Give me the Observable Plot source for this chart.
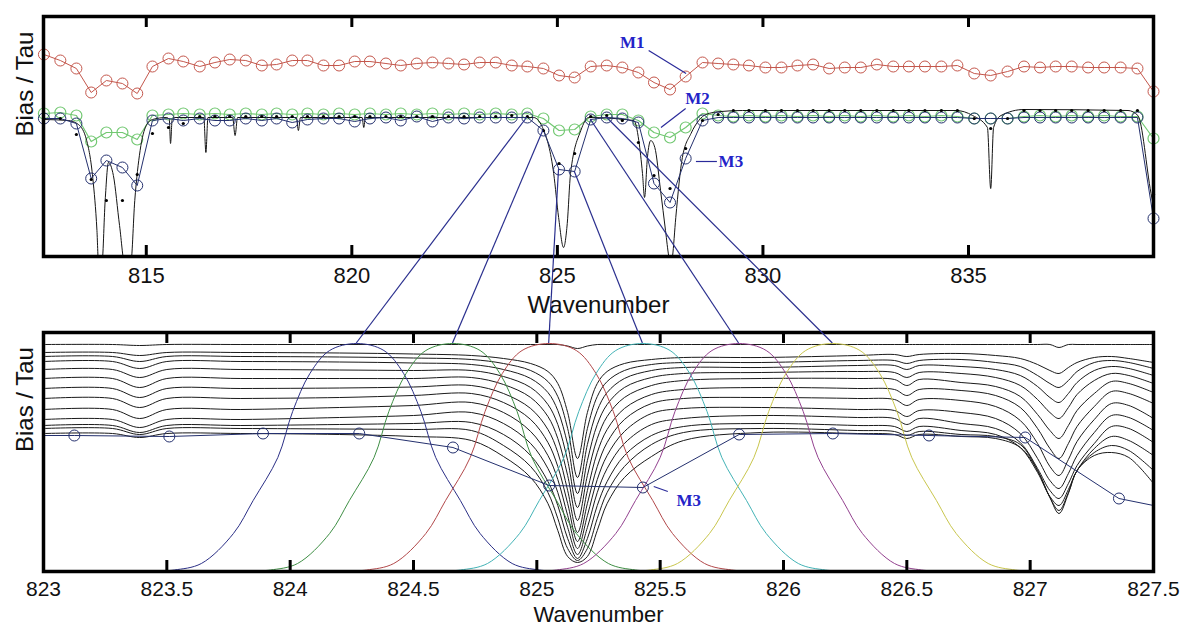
<!DOCTYPE html>
<html><head><meta charset="utf-8">
<script src="https://cdn.jsdelivr.net/npm/d3@7"></script>
<script src="https://cdn.jsdelivr.net/npm/@observablehq/plot@0.6"></script>
<style>
html,body{margin:0;padding:0;background:#fff;}
#wrap{position:relative;width:1183px;height:627px;overflow:hidden;background:#fff;}
#wrap svg{position:absolute;left:0;}
</style></head><body><div id="wrap"></div>
<script>
// ---------------- TOP PANEL DATA (wavenumber, arbitrary Bias/Tau units) ----------------
const topTicks = [815, 820, 825, 830, 835];
const channels = [812.51,812.91,813.30,813.66,814.03,814.42,814.78,815.15,815.54,815.90,816.30,816.67,817.03,817.42,817.81,818.17,818.55,818.92,819.31,819.69,820.07,820.44,820.83,821.19,821.58,821.96,822.35,822.73,823.11,823.50,823.89,824.27,824.66,825.04,825.42,825.81,826.20,826.58,826.97,827.35,827.74,828.12,828.53,828.91,829.28,829.66,830.06,830.45,830.84,831.22,831.61,831.99,832.38,832.77,833.17,833.55,833.94,834.34,834.73,835.14,835.54,835.95,836.35,836.74,837.12,837.51,837.91,838.30,838.70,839.11,839.50];
const redM1 = [202,196,188,164,176,173,163,190,198,195,190,194,197,196,191,192,196,196,191,191,195,195,193,191,193,194,193,192,194,194,191,190,188,181,179,190,191,189,184,174,167,180,194,193,192,191,189,189,191,192,188,189,189,192,190,190,190,190,191,183,181,185,190,189,190,190,189,189,189,188,165];
const greenM2 = [143,144,141,115,124,124,117,141,142,143,142,143,142,143,142,143,142,143,142,143,142,143,142,143,142,143,142,143,142,143,142,143,138,126,127,140,142,142,136,124,119,129,143,141,140,141,140,141,140,141,140,141,140,141,140,141,140,141,140,138,138,138,140,141,140,141,140,141,140,140,118];
const blueM3 = [138,138,133,78,96,89,71,136,138,136,138,136,136,138,136,138,134,137,138,138,135,138,139,136,140,135,139,138,139,139,139,139,126,87,85,137,139,138,134,73,54,98,136,139,139,139,139,139,139,139,139,139,139,139,139,139,139,139,139,138,138,138,139,139,139,139,139,139,139,139,38];
const truthDots = [138,138,122,77,56,56,82,123,129,133,140,140,140,140,140,140,140,140,140,140,140,140,140,140,140,140,140,140,140,140,141,140,126,93,103,140,141,136,114,81,68,108,136,142,146,146,146,146,146,146,146,146,146,146,146,146,146,146,146,138,128,138,146,146,146,146,146,146,146,146,62];
const hiresWn = [812.50,813.10,813.35,813.55,813.70,813.80,813.84,813.92,814.00,814.08,814.20,814.35,814.48,814.62,814.72,814.85,815.00,815.15,815.50,815.56,815.59,815.63,815.70,816.40,816.45,816.50,817.10,817.16,817.22,818.65,818.70,818.75,820.25,820.29,820.33,824.42,824.67,824.91,825.03,825.15,825.24,825.32,825.57,825.76,826.86,826.98,827.07,827.12,827.19,827.27,827.37,827.51,827.63,827.71,827.76,827.80,827.88,828.04,828.25,828.44,828.61,828.98,829.50,834.70,835.10,835.46,835.54,835.61,835.79,836.35,838.88,839.12,839.44,839.50];
const hiresVal = [137,136,132,116,78,26,-8,-8,56,94,81,31,-8,-8,56,106,131,137,139,137,113,137,139,139,104,139,139,121,139,139,126,139,139,129,139,139,126,83,39,9,33,83,126,139,136,116,83,59,99,116,109,66,26,0,-9,0,39,99,123,136,142,145,146,146,141,129,68,129,141,147,146,141,63,50];
const topLabels = ["M1", "M2", "M3"];
const topLabelWn = [826.82, 828.41, 829.22];
const topLabelVal = [214, 158, 95];
const topLeaderWn1 = [827.22, 828.12, 828.37];
const topLeaderV1 = [206, 148, 95];
const topLeaderWn2 = [828.13, 827.52, 828.88];
const topLeaderV2 = [183, 129, 95];

// ---------------- BOTTOM PANEL DATA ----------------
const botTicks = [823, 823.5, 824, 824.5, 825, 825.5, 826, 826.5, 827, 827.5];
const grid = [823.00,823.28,823.39,823.50,823.80,824.20,824.50,824.735,824.865,824.975,825.045,825.085,825.125,825.165,825.205,825.245,825.285,825.355,825.465,825.595,825.91,826.30,826.45,826.50,826.55,826.72,826.86,826.96,827.03,827.08,827.117,827.155,827.19,827.26,827.33,827.40,827.50];
const tau0  = [227,227,226,227,227,227,227,227,227,227,227,227,225.5,223,225.5,227,227,227,227,227,227,227,227,227,227,227,227,227,227,227,224,227,227,227,227,227,227];
const tau1  = [219,219,216,219,219,218.5,217.5,216,213,208,200,188,159,113,159,188,200,208,212,214,214,216,217,215,217,218,216,213,207,201,198,204,209,214,215,213,209];
const tau2  = [215,215,210,215,215,214.5,213.5,212,208,201,190,175,143,94,143,175,190,201,207,209,209,211,211,208,211,212,209,205,196,188,184,191,200,209,211,209,203];
const tau3  = [210,210,203,210,210,209.5,208.5,207,202,193,179,161,127,78,127,161,179,193,201,204,204,206,206,202,206,205,202,196,185,174,169,178,189,201,205,203,196];
const tau4  = [202,202,194,202,202,201.5,201,201,195,184,167,147,111,64,111,147,167,184,194,198,199,200,199,194,199,198,194,186,172,159,153,164,177,191,198,196,188];
const tau5  = [193,193,184,193,193,193,193,194,187,174,155,133,96,51,96,133,155,174,186,191,193,193,192,186,192,189,185,175,157,141,133,146,161,178,190,188,179];
const tau6  = [183,183,174,183,183,183.5,184.5,186,178,163,142,119,81,39,81,119,142,163,177,182,184,183,182,176,182,181,176,164,143,123,113,128,145,165,180,178,168];
const tau7  = [173,173,164,173,173,174,176,178,169,152,129,105,68,30,68,105,129,152,168,173,174,173,172,166,172,171,165,151,128,105,96,112,130,152,168,166,153];
const tau8  = [162,162,153,162,162,164,166,169,159,140,116,92,56,23,56,92,116,140,158,163,164,162,161,155,161,159,153,138,113,91,83,98,116,139,156,154,141];
const tau9  = [152,152,144,152,152,154,156,159,148,128,103,79,44,17,44,79,103,128,147,153,156,154,153,147,153,148,143,129,103,81,73,88,106,128,145,143,129];
const tau10 = [146,146,139,146,146,147,148,149,137,116,90,66,33,13,33,66,90,116,136,145,148,146,145,140,145,141,137,124,99,75,66,82,101,123,135,131,116];
const tau11 = [143,143,137,143,143,142.5,142,141,126,105,79,53,23,11,23,53,79,105,127,139,143,141,140,136,140,137,135,127,101,74,61,79,101,119,126,121,101];
const tau12 = [138,138,134,138,138,137,135,131,115,94,68,41,15,9,15,41,68,94,115,131,139,138,137,133,137,135,133,124,101,74,58,78,101,116,119,114,88];
const convWn  = [823.00,823.125,823.51,823.89,824.28,824.66,825.05,825.43,825.82,826.20,826.59,826.98,827.36,827.50];
const convVal = [136,136,135,138,138,124,86,84,137,138,136,134,73,66];
const convCircle = [false,true,true,true,true,true,true,true,true,true,true,true,true,false];
const srfCenters = [824.27, 824.66, 825.05, 825.43, 825.82, 826.20];
const srfColors = ["#2b2f86", "#3f8f45", "#b2484a", "#43b3b6", "#93418f", "#c9c64d"];
const srfOffset = [-0.80,-0.74,-0.63,-0.50,-0.42,-0.32,-0.26,-0.19,-0.11,0,0.11,0.19,0.26,0.32,0.42,0.50,0.63,0.74,0.80];
const srfShape  = [0.5,1.5,8,38,71,114,160,198,221,228,221,198,160,114,71,38,8,1.5,0.5];
const botLabel = "M3";
const botLabelWn = 825.616, botLabelVal = 71;
const botLeader = {wn1: 825.474, v1: 85, wn2: 825.531, v2: 80};
// connectors: top channel index -> SRF index
const connTopIdx = [31, 32, 33, 34, 35, 36];

// ---------------- BUILD ----------------
const RED = "#c4574c", GREEN = "#72c872", NAVY = "#24306e", LBLUE = "#2323c8";
const font = "'Liberation Sans', Arial, sans-serif";
const fmt = d => String(d);
const chanRows = channels.map((wn, i) => ({wn, red: redM1[i], green: greenM2[i], blue: blueM3[i], dot: truthDots[i]}));
const hires = hiresWn.map((wn, i) => ({wn, v: hiresVal[i]}));
const tLabels = topLabels.map((t, i) => ({t, wn: topLabelWn[i], v: topLabelVal[i]}));
const tLeaders = topLeaderWn1.map((w, i) => ({x1: w, y1: topLeaderV1[i], x2: topLeaderWn2[i], y2: topLeaderV2[i]}));

const topPlot = Plot.plot({
  width: 1183, height: 320,
  marginLeft: 43, marginRight: 30, marginTop: 16, marginBottom: 64,
  x: {domain: [812.5, 839.5]},
  y: {domain: [0, 240], axis: null},
  style: {background: "transparent", overflow: "visible", fontFamily: font, color: "#111"},
  marks: [
    Plot.line(chanRows, {x: "wn", y: "red", stroke: RED, strokeWidth: 1}),
    Plot.dot(chanRows, {x: "wn", y: "red", r: 5.5, stroke: RED, strokeWidth: 1, fill: "none"}),
    Plot.line(chanRows, {x: "wn", y: "green", stroke: GREEN, strokeWidth: 1.2}),
    Plot.dot(chanRows, {x: "wn", y: "green", r: 5.5, stroke: GREEN, strokeWidth: 1.2, fill: "none"}),
    Plot.line(hires, {x: "wn", y: "v", stroke: "#151515", strokeWidth: 1, curve: "monotone-x", clip: true}),
    Plot.line(chanRows, {x: "wn", y: "blue", stroke: NAVY, strokeWidth: 1}),
    Plot.dot(chanRows, {x: "wn", y: "blue", r: 5.5, stroke: NAVY, strokeWidth: 1, fill: "none"}),
    Plot.dot(chanRows, {x: "wn", y: "dot", r: 1.6, fill: "#000", stroke: null}),
    Plot.link(tLeaders, {x1: "x1", y1: "y1", x2: "x2", y2: "y2", stroke: "#2a2a9a", strokeWidth: 1.2}),
    Plot.text(tLabels, {x: "wn", y: "v", text: "t", fill: LBLUE, fontSize: 17, fontWeight: "bold", fontFamily: "'Liberation Serif', 'Times New Roman', serif"}),
    Plot.frame({stroke: "#000", strokeWidth: 3.5}),
    Plot.tickX(topTicks, {x: d => d, insetTop: 229, strokeWidth: 3, stroke: "#000"}),
    Plot.tickX(topTicks, {x: d => d, insetBottom: 229, strokeWidth: 3, stroke: "#000"}),
    Plot.axisX({ticks: topTicks, tickFormat: fmt, tickSize: 0, tickPadding: 11, fontSize: 22, label: null, fill: "#111"}),
    Plot.text(["Wavenumber"], {frameAnchor: "bottom", text: d => d, dy: 56, lineAnchor: "bottom", fontSize: 24, fill: "#111"}),
    Plot.text(["Bias / Tau"], {frameAnchor: "left", text: d => d, rotate: -90, dx: -18, fontSize: 24, fill: "#111"})
  ]
});

const tauSets = [tau0, tau1, tau2, tau3, tau4, tau5, tau6, tau7, tau8, tau9, tau10, tau11, tau12];
const tauRows = tauSets.flatMap((arr, k) => arr.map((v, i) => ({wn: grid[i], v, k})));
const srfRows = srfCenters.flatMap((c, k) => srfOffset.map((o, i) => ({wn: c + o, v: srfShape[i], k})));
const convRows = convWn.map((wn, i) => ({wn, v: convVal[i], c: convCircle[i]}));

const botPlot = Plot.plot({
  width: 1183, height: 315,
  marginLeft: 43, marginRight: 30, marginTop: 20, marginBottom: 56,
  x: {domain: [823, 827.5]},
  y: {domain: [0, 239], axis: null},
  color: {domain: d3.range(srfColors.length), range: srfColors},
  style: {background: "transparent", overflow: "visible", fontFamily: font, color: "#111"},
  marks: [
    Plot.line(tauRows, {x: "wn", y: "v", z: "k", stroke: "#1a1a1a", strokeWidth: 1, curve: "catmull-rom", clip: true}),
    Plot.line(srfRows, {x: "wn", y: "v", z: "k", stroke: "k", strokeWidth: 1, curve: "catmull-rom", clip: true}),
    Plot.line(convRows, {x: "wn", y: "v", stroke: NAVY, strokeWidth: 1}),
    Plot.dot(convRows.filter(d => d.c), {x: "wn", y: "v", r: 5.5, stroke: NAVY, strokeWidth: 1, fill: "none"}),
    Plot.link([botLeader], {x1: "wn1", y1: "v1", x2: "wn2", y2: "v2", stroke: "#2a2a9a", strokeWidth: 1.2}),
    Plot.text([botLabel], {x: () => botLabelWn, y: () => botLabelVal, text: d => d, fill: LBLUE, fontSize: 17, fontWeight: "bold", fontFamily: "'Liberation Serif', 'Times New Roman', serif"}),
    Plot.frame({stroke: "#000", strokeWidth: 3.5}),
    Plot.tickX(botTicks, {x: d => d, insetTop: 228, strokeWidth: 3, stroke: "#000"}),
    Plot.tickX(botTicks, {x: d => d, insetBottom: 228, strokeWidth: 3, stroke: "#000"}),
    Plot.axisX({ticks: botTicks, tickFormat: fmt, tickSize: 0, tickPadding: 10, fontSize: 21, label: null, fill: "#111"}),
    Plot.text(["Wavenumber"], {frameAnchor: "bottom", text: d => d, dy: 50, lineAnchor: "bottom", fontSize: 22, fill: "#111"}),
    Plot.text(["Bias / Tau"], {frameAnchor: "left", text: d => d, rotate: -90, dx: -18, fontSize: 24, fill: "#111"})
  ]
});

const wrap = document.getElementById("wrap");
const BOT_TOP = 312;
topPlot.style.top = "0px";
botPlot.style.top = BOT_TOP + "px";
wrap.appendChild(topPlot);
wrap.appendChild(botPlot);

// connector lines between the panels, positioned with both plots' scales
const sxT = topPlot.scale("x"), syT = topPlot.scale("y");
const sxB = botPlot.scale("x"), syB = botPlot.scale("y");
const conns = connTopIdx.map((ti, k) => ({tw: channels[ti], tv: blueM3[ti], bw: srfCenters[k], bv: srfShape[srfShape.length >> 1]}));
const ov = d3.create("svg").attr("width", 1183).attr("height", 627)
  .style("top", "0px").style("left", "0px").style("pointer-events", "none");
ov.selectAll("line").data(conns).join("line")
  .attr("x1", d => sxT.apply(d.tw)).attr("y1", d => syT.apply(d.tv))
  .attr("x2", d => sxB.apply(d.bw)).attr("y2", d => BOT_TOP + syB.apply(d.bv))
  .attr("stroke", "#2a2f8e").attr("stroke-width", 1.2);
wrap.appendChild(ov.node());
</script></body></html>
